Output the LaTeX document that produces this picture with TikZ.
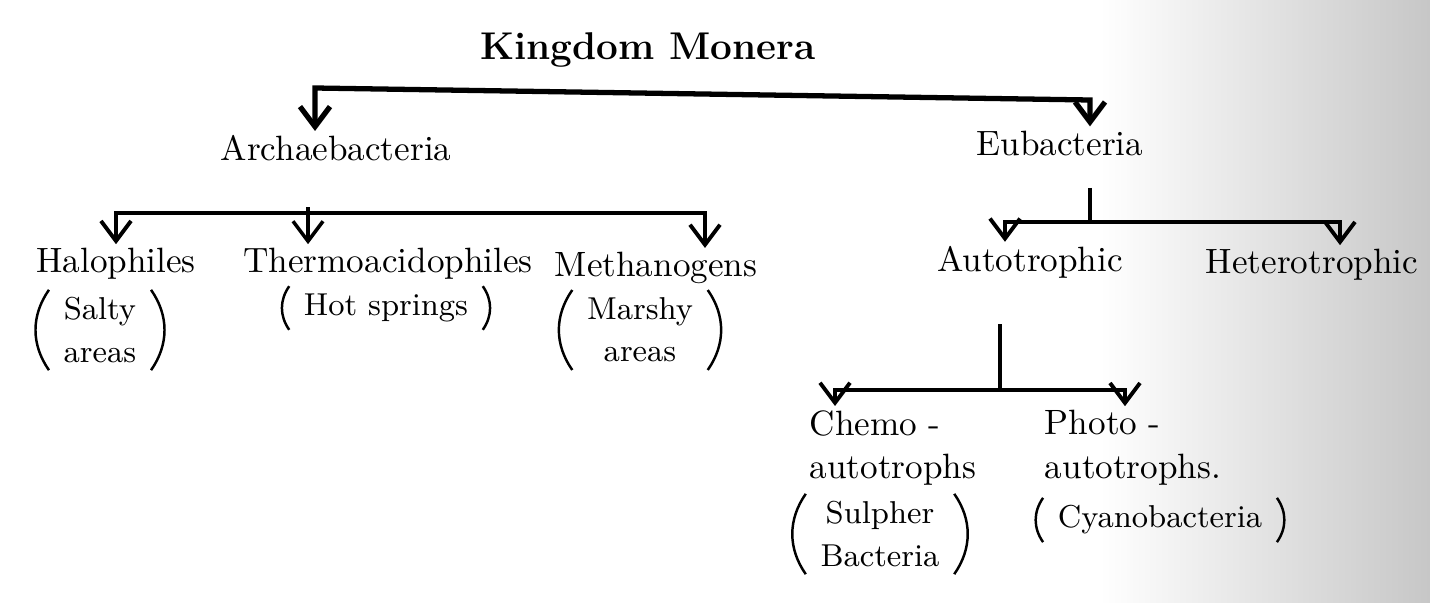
\documentclass[tikz,border=0pt]{standalone}
\usepackage{tikz}
\usetikzlibrary{arrows.meta,positioning}

\begin{document}
\begin{tikzpicture}[
    x=0.01cm, y=-0.01cm,
    taxon/.style={inner sep=1pt, align=left, font=\fontsize{10}{12.5}\selectfont},
    note/.style={inner xsep=4pt, inner ysep=2pt, align=center, font=\fontsize{9}{12}\selectfont},
    paren/.style={line width=0.7pt},
    stem/.style={line width=1pt},
    twoway/.style={{Straight Barb[length=2mm, width=3mm]}-{Straight Barb[length=2mm, width=3mm]}, line width=1.1pt},
    branch/.style={-{Straight Barb[length=2mm, width=3mm]}, line width=1pt}
]
\useasboundingbox (0,0) rectangle (1430,603);
\shade[left color=white, right color=black!22] (1100,0) rectangle (1430,603);

\node[taxon, font=\fontsize{11}{13}\selectfont\bfseries] (kingdom) at (648,50) {Kingdom Monera};
\node[taxon] (archae) at (336,148) {Archaebacteria};
\node[taxon] (eubac) at (1060,143) {Eubacteria};

\node[taxon] (halo) at (116,264) {Halophiles};
\node[taxon] (thermo) at (388,264) {Thermoacidophiles};
\node[taxon] (methano) at (656,268) {Methanogens};
\node[note] (salty) at (100,330) {Salty\\areas};
\node[note] (hot) at (386,308) {Hot springs};
\node[note] (marshy) at (640,330) {Marshy\\areas};

\node[taxon] (auto) at (1030,262) {Autotrophic};
\node[taxon] (hetero) at (1312,265) {Heterotrophic};

\node[taxon] (chemo) at (893,448) {Chemo -\\autotrophs};
\node[taxon] (photo) at (1133,448) {Photo -\\autotrophs.};
\node[note] (sulpher) at (880,534) {Sulpher\\Bacteria};
\node[note] (cyano) at (1160,520) {Cyanobacteria};

% brackets round the habitats
\foreach \n in {salty,hot,marshy,sulpher,cyano} {
  \draw[paren] (\n.north west) to[bend right=35] (\n.south west);
  \draw[paren] (\n.north east) to[bend left=35] (\n.south east);
}

% kingdom split
\coordinate (topl) at (315,88);
\coordinate (topr) at (1090,100);
\draw[twoway, line width=1.5pt] (topl |- archae.north) -- (topl) -- (topr) -- (topr |- eubac.north);

% archaebacteria
\coordinate (ajoin) at (308,213);
\coordinate (aright) at (705,213);
\draw[branch] ([yshift=-12pt]archae.south -| ajoin) -- (ajoin |- thermo.north);
\draw[twoway] (halo.north) -- (halo.north |- ajoin) -- (aright) -- (aright |- methano.north);

% eubacteria
\coordinate (ejoin) at (1090,222);
\coordinate (eleft) at (1005,222);
\coordinate (eright) at (1340,222);
\draw[stem] ([yshift=-8pt]eubac.south -| ejoin) -- (ejoin);
\draw[twoway] (eleft |- auto.north) -- (eleft) -- (eright) -- (eright |- hetero.north);

% autotrophic
\coordinate (cjoin) at (1000,390);
\coordinate (cleft) at (835,390);
\coordinate (cright) at (1125,390);
\draw[stem] ([yshift=-12pt]auto.south -| cjoin) -- (cjoin);
\draw[twoway] (cleft |- chemo.north) -- (cleft) -- (cright) -- (cright |- photo.north);
\end{tikzpicture}
\end{document}
